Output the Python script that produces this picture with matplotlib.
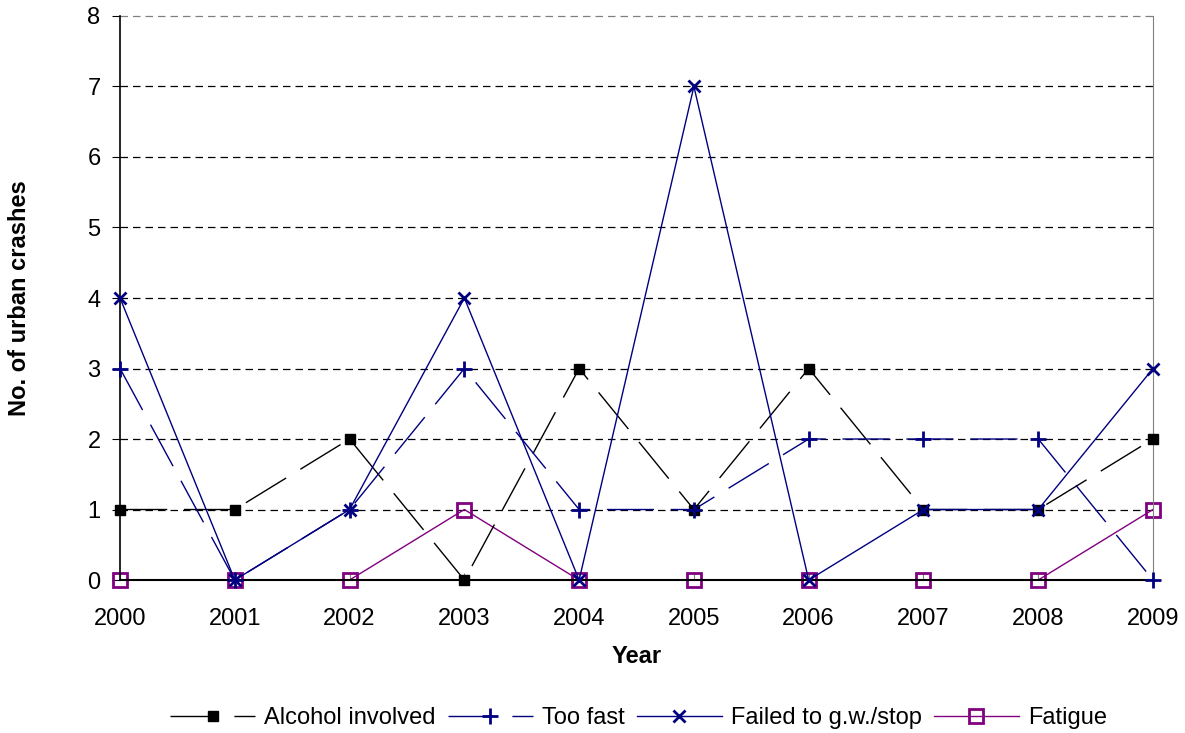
import matplotlib.pyplot as plt
from matplotlib.lines import Line2D

plt.rcParams['font.family'] = ['Liberation Sans', 'DejaVu Sans']

years = [2000, 2001, 2002, 2003, 2004, 2005, 2006, 2007, 2008, 2009]
alcohol = [1, 1, 2, 0, 3, 1, 3, 1, 1, 2]
too_fast = [3, 0, 1, 3, 1, 1, 2, 2, 2, 0]
failed_stop = [4, 0, 1, 4, 0, 7, 0, 1, 1, 3]
fatigue = [0, 0, 0, 1, 0, 0, 0, 0, 0, 1]

NAVY = '#000080'
PURPLE = '#800080'
FS = 17

fig = plt.figure(figsize=(11.85, 7.33), dpi=100)
ax = fig.add_axes([0.1013, 0.2087, 0.8717, 0.7695])

for v in range(1, 9):
    ax.axhline(v, color='black' if v < 8 else '#808080', lw=0.9,
               dashes=(6, 4), zorder=0)

ax.plot(years, alcohol, color='black', lw=1, dashes=(34, 12),
        marker='s', ms=7, mfc='black', mec='black', zorder=3)
ax.plot(years, too_fast, color=NAVY, lw=1, dashes=(34, 12),
        marker='+', ms=11, mew=2, zorder=4)
ax.plot(years, failed_stop, color=NAVY, lw=1,
        marker='x', ms=8, mew=2, zorder=4)
ax.plot(years, fatigue, color=PURPLE, lw=1,
        marker='s', ms=10, mfc='none', mec=PURPLE, mew=2, zorder=2)
for ln in ax.lines:
    ln.set_clip_on(False)

ax.set_xlim(2000, 2009)
ax.set_ylim(0, 8)
ax.set_xticks(years)
ax.set_yticks(range(0, 9))
ax.tick_params(axis='x', direction='in', length=5, color='#808080', pad=20, labelsize=FS)
ax.tick_params(axis='y', direction='out', length=6, labelsize=FS, pad=8)
ax.spines['top'].set_visible(False)
ax.spines['right'].set_color('#808080')
ax.spines['left'].set_linewidth(1.2)
ax.spines['bottom'].set_linewidth(1.5)

ax.set_xlabel('Year', fontsize=FS, fontweight='bold')
ax.set_ylabel('No. of urban crashes', fontsize=FS, fontweight='bold')
ax.xaxis.set_label_coords(0.5, -0.115)
ax.yaxis.set_label_coords(-0.086, 0.5)

handles = [
    Line2D([], [], color='black', lw=1, marker='s', ms=7, dashes=(34, 12)),
    Line2D([], [], color=NAVY, lw=1, marker='+', ms=11, mew=2, dashes=(34, 12)),
    Line2D([], [], color=NAVY, lw=1, marker='x', ms=8, mew=2),
    Line2D([], [], color=PURPLE, lw=1, marker='s', ms=10, mfc='none', mec=PURPLE, mew=2),
]
fig.legend(handles, ['Alcohol involved', 'Too fast', 'Failed to g.w./stop', 'Fatigue'],
           loc='center', bbox_to_anchor=(0.539, 0.0205), ncol=4, frameon=False,
           fontsize=FS, handlelength=3.6, columnspacing=0.5, handletextpad=0.4,
           borderpad=0)

fig.savefig('out.png', dpi=100)
